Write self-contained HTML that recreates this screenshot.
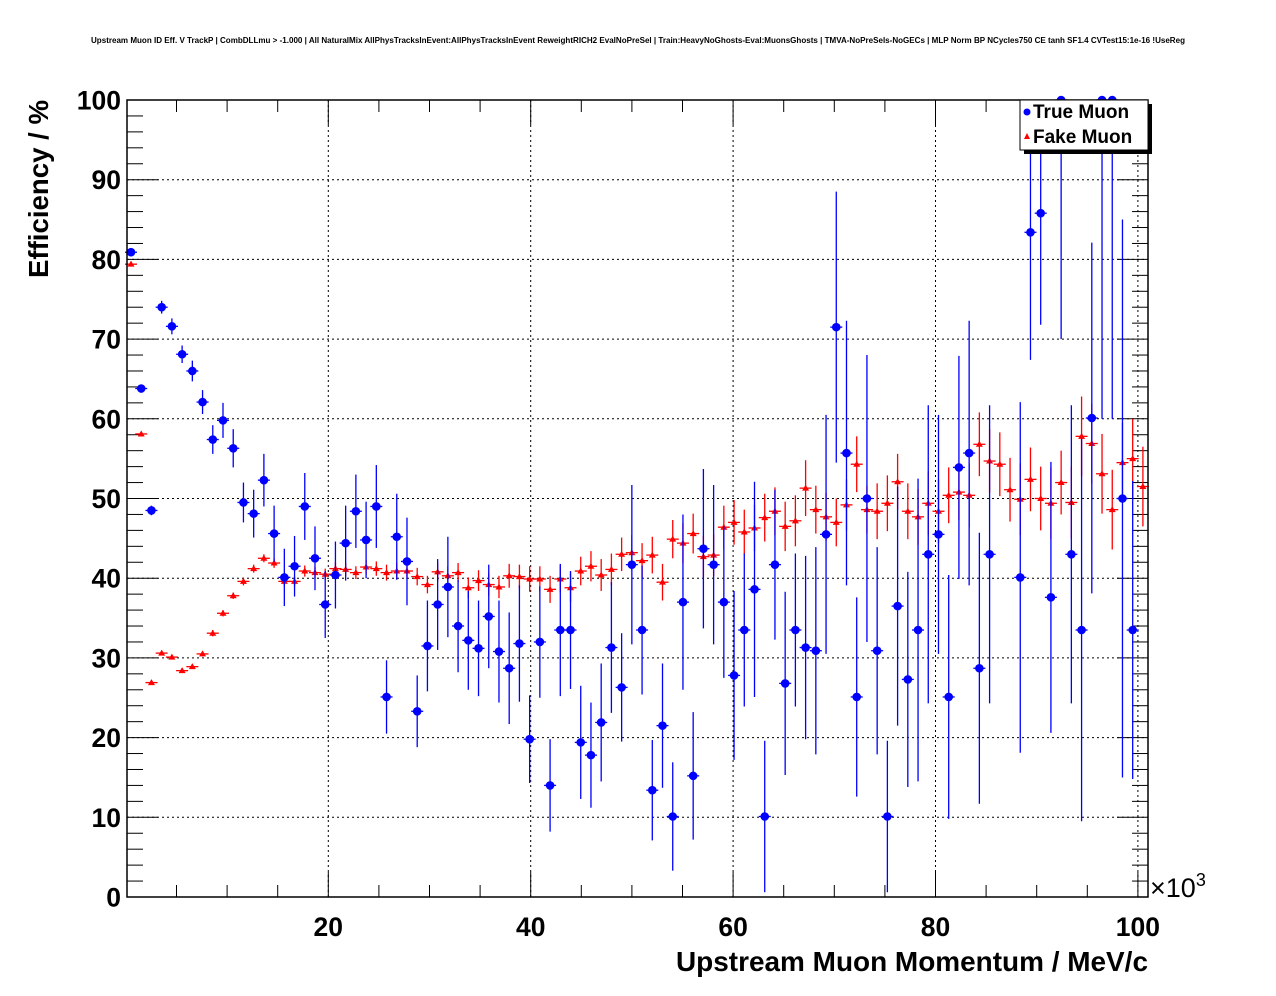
<!DOCTYPE html>
<html><head><meta charset="utf-8"><style>
html,body{margin:0;padding:0;background:#fff;}
svg{display:block;font-family:"Liberation Sans",Arial,sans-serif;}
</style></head><body>
<svg id="chart" width="1276" height="996" viewBox="0 0 1276 996">
<rect width="1276" height="996" fill="#fff"/>
<text x="91" y="43" font-size="8" font-weight="bold" textLength="1094" lengthAdjust="spacingAndGlyphs">Upstream Muon ID Eff. V TrackP | CombDLLmu &gt; -1.000 | All NaturalMix AllPhysTracksInEvent:AllPhysTracksInEvent ReweightRICH2 EvalNoPreSel | Train:HeavyNoGhosts-Eval:MuonsGhosts | TMVA-NoPreSels-NoGECs | MLP Norm BP NCycles750 CE tanh SF1.4 CVTest15:1e-16 !UseReg</text>
<g id="grid"></g>
<g id="axes"></g>
<g id="fake"></g>
<g id="true"></g>
<rect x="127" y="100" width="1021" height="797" fill="none" stroke="#000" stroke-width="1.5"/>
<text transform="translate(48,100) rotate(-90)" text-anchor="end" font-size="27.5" font-weight="bold" textLength="178" lengthAdjust="spacingAndGlyphs">Efficiency / %</text>
<text x="1148" y="971" text-anchor="end" font-size="27.5" font-weight="bold" textLength="472" lengthAdjust="spacingAndGlyphs">Upstream Muon Momentum / MeV/c</text>
<text x="1150" y="897" font-size="27">×10<tspan font-size="18" dy="-11">3</tspan></text>
<g>
<rect x="1024" y="104" width="128" height="50" fill="#000"/>
<rect x="1020" y="100" width="128" height="50" fill="#fff" stroke="#000" stroke-width="1"/>
<circle cx="1027" cy="112" r="3.5" fill="#0000ff"/>
<text x="1033" y="118" font-size="19" font-weight="bold">True Muon</text>
<polygon points="1024,139 1030,139 1027,133" fill="#ff0000"/>
<text x="1033" y="143" font-size="19" font-weight="bold">Fake Muon</text>
</g>
</svg>
<script>
const binCount = 100;
const trueEff = [80.9,63.8,48.5,74.0,71.6,68.1,66.0,62.1,57.4,59.8,
56.3,49.5,48.1,52.3,45.6,40.1,41.5,49.0,42.5,36.7,
40.4,44.4,48.4,44.8,49.0,25.1,45.2,42.1,23.3,31.5,
36.7,38.9,34.0,32.2,31.2,35.2,30.8,28.7,31.8,19.8,
32.0,14.0,33.5,33.5,19.4,17.8,21.9,31.3,26.3,41.7,
33.5,13.4,21.5,10.1,37.0,15.2,43.7,41.7,37.0,27.8,
33.5,38.6,10.1,41.7,26.8,33.5,31.3,30.9,45.5,71.5,
55.7,25.1,50.0,30.9,10.1,36.5,27.3,33.5,43.0,45.5,
25.1,53.9,55.7,28.7,43.0,null,null,40.1,83.4,85.8,
37.6,100,43.0,33.5,60.1,100,100,50,33.5,null];
const trueErr = [0.5,0.5,0.6,0.8,1.0,1.1,1.3,1.5,1.8,2.2,
2.4,2.5,3.0,3.3,3.5,3.6,3.8,4.2,4.0,4.2,
4.2,4.7,4.6,4.8,5.2,4.6,5.4,5.5,4.5,5.7,
5.7,6.3,5.8,6.2,6.0,6.5,6.4,7.0,7.3,5.5,
7.0,5.8,8.3,7.4,7.1,6.6,7.4,8.2,6.8,10.0,
8.1,6.3,7.8,6.8,11.0,8.0,10.0,10.0,9.5,10.6,
9.6,13.5,9.5,9.4,11.5,9.6,11.5,13,15,17,
16.6,12.5,18,13,9.5,15,13.5,19,18.7,15,
15.3,14,16.6,17,18.7,null,null,22,16,14,
17,30,18.7,24,22,40,40,35,18.7,null];
const fakeEff = [79.4,58.1,26.9,30.6,30.1,28.4,28.9,30.5,33.1,35.6,
37.8,39.6,41.2,42.5,41.9,39.6,39.6,40.9,40.7,40.5,
41.2,41.1,40.7,41.4,41.2,40.7,40.9,40.9,40.2,39.2,
40.8,40.3,40.7,38.8,39.7,39.2,38.9,40.3,40.2,39.9,
39.9,38.6,39.9,38.8,40.9,41.5,40.4,41.1,43.0,43.2,
42.2,42.9,39.5,44.9,44.4,45.6,42.7,42.9,46.4,47.0,
45.8,46.3,47.6,48.4,46.5,47.2,51.3,48.6,47.7,47.0,
49.2,54.3,48.6,48.4,49.4,52.1,48.4,47.7,49.4,48.4,
50.4,50.8,50.4,56.8,54.7,54.3,51.1,49.9,52.4,50.0,
49.4,52.0,49.5,57.8,56.9,53.1,48.6,54.5,55.0,51.5];
const fakeErr = [0.3,0.3,0.3,0.3,0.3,0.3,0.3,0.3,0.4,0.4,
0.4,0.5,0.5,0.5,0.6,0.6,0.6,0.7,0.7,0.7,
0.8,0.8,0.8,0.9,0.9,1.0,1.0,1.0,1.1,1.1,
1.2,1.2,1.2,1.3,1.3,1.4,1.4,1.5,1.5,1.6,
1.6,1.7,1.7,1.8,1.8,1.9,2,2,2.1,2.2,
2.2,2.3,2.3,2.4,2.5,2.5,2.6,2.6,2.7,2.8,
2.8,2.9,3,3,3.1,3.2,3.5,3,3,3,
3.2,3.5,3,3.5,3.5,3.5,3.5,3.5,4,4,
3.5,3.5,4,4,4,4,4,4.5,4,4,
4.5,4,4.5,5,5,5,5,5,5,5];
const xTickLabels = ["20","40","60","80","100"];
const yTickLabels = ["0","10","20","30","40","50","60","70","80","90","100"];

const NS = "http://www.w3.org/2000/svg";
const L = 127, R = 1148, T = 100, B = 897;
function xs(v){ return 125.9 + 10.12 * v; }
function ys(v){ return 897 - v * 7.97; }
function binCenter(i){ return 0.505 + 1.01 * i; }
function mk(tag, attrs, parent){
  const e = document.createElementNS(NS, tag);
  for (const k in attrs) e.setAttribute(k, attrs[k]);
  parent.appendChild(e);
  return e;
}
const grid = document.getElementById('grid');
const axes = document.getElementById('axes');
for (let v = 0; v <= 100; v += 2) {
  const y = ys(v);
  const major = v % 10 === 0;
  const len = major ? 31 : 16;
  const t1 = mk('line', {x1:L, x2:L+len, y1:y, y2:y, stroke:'#000', 'stroke-width':1}, axes);
  
  
  const t2 = mk('line', {x1:R-len, x2:R, y1:y, y2:y, stroke:'#000', 'stroke-width':1}, axes);
  
  
  if (major) {
    if (v > 0 && v < 100) {
      const g = mk('line', {x1:L, x2:R, y1:y, y2:y, stroke:'#000', 'stroke-width':1, 'stroke-dasharray':'2,3'}, grid);
      
      
    }
    const lb = mk('text', {x:121, y:y+9.5, 'text-anchor':'end', 'font-size':26.5, 'font-weight':'bold'}, axes);
    lb.textContent = yTickLabels[v/10];
    
    
  }
}
for (let v = 5; v <= 100; v += 5) {
  const x = xs(v);
  const major = v % 20 === 0;
  const len = major ? 25 : 12;
  const t1 = mk('line', {x1:x, x2:x, y1:B, y2:B-len, stroke:'#000', 'stroke-width':1}, axes);
  
  
  const t2 = mk('line', {x1:x, x2:x, y1:T, y2:T+len, stroke:'#000', 'stroke-width':1}, axes);
  
  
  if (major) {
    const g = mk('line', {x1:x, x2:x, y1:T, y2:B, stroke:'#000', 'stroke-width':1, 'stroke-dasharray':'2,3'}, grid);
    
    
    const lb = mk('text', {x:x, y:936, 'text-anchor':'middle', 'font-size':26.5, 'font-weight':'bold'}, axes);
    lb.textContent = xTickLabels[v/20 - 1];
    
    
  }
}
function clampY(v){ return Math.max(0, Math.min(100, v)); }
const fg = document.getElementById('fake');
for (let i = 0; i < binCount; i++) {
  const v = fakeEff[i];
  if (v === null || v === undefined) continue;
  const x = xs(binCenter(i)), y = ys(v), e = fakeErr[i] || 0;
  const g = mk('g', {}, fg);
  
  
  mk('line', {x1:x, x2:x, y1:ys(clampY(v+e)), y2:ys(clampY(v-e)), stroke:'#ff0000', 'stroke-width':1.3}, g);
  mk('line', {x1:x-6, x2:x+6, y1:y, y2:y, stroke:'#ff0000', 'stroke-width':1.3}, g);
  mk('polygon', {points:`${x-3.5},${y+2.5} ${x+3.5},${y+2.5} ${x},${y-3.5}`, fill:'#ff0000'}, g);
}
const tg = document.getElementById('true');
for (let i = 0; i < binCount; i++) {
  const v = trueEff[i];
  if (v === null || v === undefined) continue;
  const x = xs(binCenter(i)), y = ys(v), e = trueErr[i] || 0;
  const g = mk('g', {}, tg);
  
  
  mk('line', {x1:x, x2:x, y1:ys(clampY(v+e)), y2:ys(clampY(v-e)), stroke:'#0000ff', 'stroke-width':1.3}, g);
  mk('line', {x1:x-6, x2:x+6, y1:y, y2:y, stroke:'#0000ff', 'stroke-width':1.3}, g);
  mk('circle', {cx:x, cy:y, r:4.3, fill:'#0000ff'}, g);
}
</script>
</body></html>
